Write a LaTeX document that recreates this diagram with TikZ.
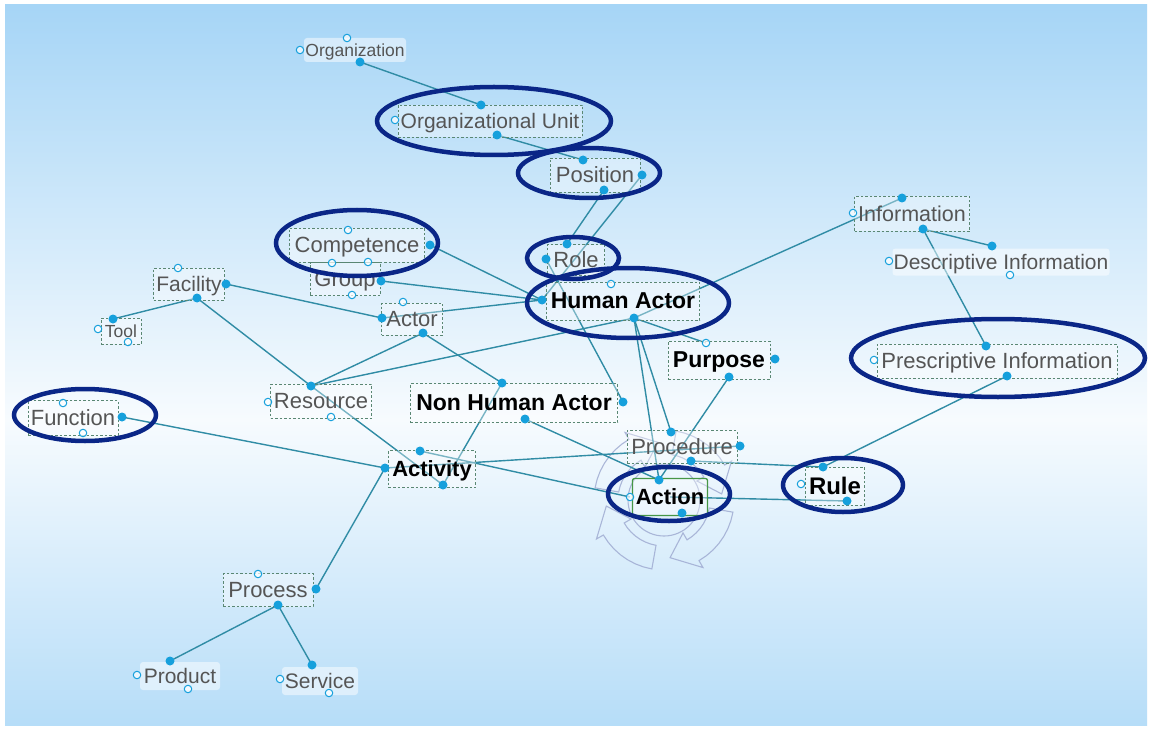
\documentclass[tikz,border=0pt]{standalone}
\usepackage{fontspec}
\setmainfont{Liberation Sans}
\usetikzlibrary{calc}
\definecolor{bgtop}{RGB}{166,213,246}
\definecolor{bgmid}{RGB}{247,251,254}
\definecolor{bgbot}{RGB}{182,221,248}
\definecolor{dotc}{RGB}{22,160,220}
\definecolor{linec}{RGB}{48,140,165}
\definecolor{ringc}{RGB}{10,38,135}
\definecolor{dashc}{RGB}{90,135,115}
\definecolor{txtc}{RGB}{85,85,85}
\definecolor{gearc}{RGB}{160,172,210}
\definecolor{actc}{RGB}{70,150,70}
\pgfdeclarelayer{back}
\pgfsetlayers{back,main}
\tikzset{
  dbox/.style={draw=dashc, dash pattern=on 2.5pt off 2pt, line width=0.9pt,
     fill=white, fill opacity=0.35, text opacity=1, inner sep=0pt, text depth=0pt,
     font=\fontsize{22}{24}\selectfont, text=txtc},
  bbox/.style={dbox, font=\bfseries\fontsize{23}{25}\selectfont, text=black},
  plain/.style={fill=white, fill opacity=0.5, text opacity=1, rounded corners=3pt,
     inner sep=0pt, text depth=0pt, text=txtc, font=\fontsize{21}{23}\selectfont},
  fdot/.style={circle, fill=dotc, inner sep=0pt, minimum size=9pt},
  hdot/.style={circle, draw=dotc, fill=white, fill opacity=0.7, line width=1pt, inner sep=0pt, minimum size=7.5pt},
  cline/.style={draw=linec, line width=1.4pt},
  hiring/.style={draw=ringc, line width=4.5pt},
  gearline/.style={draw=gearc, line width=1.1pt, draw opacity=0.85}
}
\begin{document}
\begin{tikzpicture}[x=1pt,y=-1pt]
\useasboundingbox (0,0) rectangle (1151,730);
\begin{pgfonlayer}{back}
  \fill[white] (0,0) rectangle (1151,730);
  \shade[top color=bgtop, bottom color=bgmid] (5,5) rectangle (1147,420);
  \shade[top color=bgmid, bottom color=bgbot] (5,419) rectangle (1147,725);
  % gear of arrows behind Action
  \begin{scope}[shift={(664,500)}]
    \foreach \a in {10,100,190,280}{
      \draw[gearline] plot[domain=\a:\a+50, samples=8] (\x:70) -- (\a+50:78) -- (\a+74:58)
        -- (\a+50:38) -- plot[domain=\a+50:\a, samples=8] (\x:46) -- cycle;
    }
    \draw[gearline] (0,0) circle[radius=36pt];
  \end{scope}
\end{pgfonlayer}

% ---- labelled boxes ----
\node[plain, minimum width=102pt, minimum height=24pt, font=\fontsize{17.5}{19}\selectfont] (org) at (355,50) {Organization};
\node[dbox, minimum width=184pt, minimum height=32pt, font=\fontsize{21}{23}\selectfont] (ou) at (490,121) {Organizational Unit};
\node[dbox, minimum width=90pt, minimum height=34pt] (pos) at (595,175) {Position};
\node[dbox, minimum width=115pt, minimum height=35pt, font=\fontsize{21.5}{23}\selectfont] (inf) at (912,214) {Information};
\node[plain, minimum width=217pt, minimum height=27pt] (desc) at (1001,262) {Descriptive Information};
\node[dbox, minimum width=135pt, minimum height=34pt] (comp) at (357,245) {Competence};
\node[dbox, minimum width=70pt, minimum height=33pt] (grp) at (345,279) {Group};
\node[dbox, minimum width=57pt, minimum height=31pt] (role) at (576,260) {Role};
\node[bbox, minimum width=153pt, minimum height=38pt] (ha) at (623,301) {Human Actor};
\node[dbox, minimum width=71pt, minimum height=32pt, font=\fontsize{21}{23}\selectfont] (fac) at (189,284) {Facility};
\node[dbox, minimum width=40pt, minimum height=26pt, font=\fontsize{17.5}{19}\selectfont] (tool) at (121,331) {Tool};
\node[dbox, minimum width=61pt, minimum height=32pt] (act) at (412,319) {Actor};
\node[bbox, minimum width=102pt, minimum height=38pt] (pur) at (719,360) {Purpose};
\node[dbox, minimum width=240pt, minimum height=34pt] (pre) at (997,361) {Prescriptive Information};
\node[dbox, minimum width=101pt, minimum height=34pt] (res) at (321,401) {Resource};
\node[bbox, minimum width=207pt, minimum height=39pt] (nha) at (514,403) {Non Human Actor};
\node[dbox, minimum width=90pt, minimum height=35pt] (fun) at (73,418) {Function};
\node[bbox, minimum width=87pt, minimum height=37pt, font=\bfseries\fontsize{22}{24}\selectfont] (acv) at (432,469) {Activity};
\node[dbox, minimum width=110pt, minimum height=33pt] (proc) at (682,447) {Procedure};
\node[bbox, draw=actc, solid, line width=1.3pt, rounded corners=2pt, minimum width=75pt, minimum height=37pt, font=\bfseries\fontsize{22}{24}\selectfont] (action) at (670,497) {Action};
\node[bbox, minimum width=59pt, minimum height=38pt, font=\bfseries\fontsize{24}{26}\selectfont] (rule) at (835,486) {Rule};
\node[dbox, minimum width=90pt, minimum height=33pt] (procs) at (268,590) {Process};
\node[plain, minimum width=80pt, minimum height=28pt] (prod) at (180,676) {Product};
\node[plain, minimum width=76pt, minimum height=28pt] (serv) at (320,681) {Service};

% ---- hollow ports ----
\node[hdot] (org-h1) at (300,50) {};
\node[hdot] (org-h2) at (347,38) {};
\node[hdot] (ou-h) at (395,120) {};
\node[hdot] (inf-h) at (853,213) {};
\node[hdot] (desc-h1) at (889,261) {};
\node[hdot] (desc-h2) at (1010,275) {};
\node[hdot] (comp-h1) at (348,230) {};
\node[hdot] (comp-h2) at (332,263) {};
\node[hdot] (comp-h3) at (368,262) {};
\node[hdot] (grp-h) at (352,295) {};
\node[hdot] (ha-h) at (611,284) {};
\node[hdot] (fac-h) at (178,268) {};
\node[hdot] (tool-h1) at (98,329) {};
\node[hdot] (tool-h2) at (128,342) {};
\node[hdot] (act-h) at (403,302) {};
\node[hdot] (pur-t) at (706,343) {};
\node[hdot] (pre-h) at (874,360) {};
\node[hdot] (res-h1) at (268,402) {};
\node[hdot] (res-h2) at (331,417) {};
\node[hdot] (fun-h1) at (63,403) {};
\node[hdot] (fun-h2) at (83,433) {};
\node[hdot] (action-l) at (630,497) {};
\node[hdot] (rule-h) at (801,484) {};
\node[hdot] (procs-h) at (258,574) {};
\node[hdot] (prod-h1) at (137,675) {};
\node[hdot] (prod-h2) at (188,689) {};
\node[hdot] (serv-h1) at (280,679) {};
\node[hdot] (serv-h2) at (329,693) {};

% ---- filled ports ----
\node[fdot] (org-d) at (360,62) {};
\node[fdot] (ou-t) at (481,105) {};
\node[fdot] (ou-b) at (497,135) {};
\node[fdot] (pos-t) at (583,160) {};
\node[fdot] (pos-r) at (642,175) {};
\node[fdot] (pos-b) at (604,190) {};
\node[fdot] (inf-t) at (902,198) {};
\node[fdot] (inf-b) at (923,229) {};
\node[fdot] (desc-d) at (992,246) {};
\node[fdot] (comp-r) at (430,245) {};
\node[fdot] (grp-r) at (381,281) {};
\node[fdot] (role-t) at (567,244) {};
\node[fdot] (role-l) at (546,259) {};
\node[fdot] (ha-l) at (542,300) {};
\node[fdot] (ha-b) at (634,318) {};
\node[fdot] (fac-r) at (226,284) {};
\node[fdot] (fac-b) at (197,298) {};
\node[fdot] (tool-t) at (113,319) {};
\node[fdot] (act-l) at (382,318) {};
\node[fdot] (act-b) at (423,333) {};
\node[fdot] (pur-r) at (775,359) {};
\node[fdot] (pur-b) at (729,377) {};
\node[fdot] (pre-t) at (986,346) {};
\node[fdot] (pre-b) at (1007,376) {};
\node[fdot] (res-t) at (311,386) {};
\node[fdot] (nha-t) at (502,383) {};
\node[fdot] (nha-r) at (623,402) {};
\node[fdot] (nha-b) at (525,419) {};
\node[fdot] (fun-r) at (122,417) {};
\node[fdot] (acv-t) at (420,451) {};
\node[fdot] (acv-l) at (385,468) {};
\node[fdot] (acv-b) at (443,485) {};
\node[fdot] (proc-t) at (671,432) {};
\node[fdot] (proc-r) at (740,446) {};
\node[fdot] (proc-b) at (691,461) {};
\node[fdot] (action-t) at (659,480) {};
\node[fdot] (action-b) at (682,513) {};
\node[fdot] (rule-t) at (823,467) {};
\node[fdot] (rule-b) at (847,501) {};
\node[fdot] (procs-r) at (316,589) {};
\node[fdot] (procs-b) at (278,605) {};
\node[fdot] (prod-d) at (170,661) {};
\node[fdot] (serv-d) at (312,665) {};

% ---- connectors (behind the nodes) ----
\begin{pgfonlayer}{back}
  \foreach \p/\q in {org-d/ou-t, ou-b/pos-t, pos-b/role-t, pos-r/ha-l,
      inf-t/ha-b, inf-b/desc-d, inf-b/pre-t, pre-b/rule-t,
      comp-r/ha-l, grp-r/ha-l, act-l/ha-l, fac-r/act-l, fac-b/tool-t, fac-b/res-t,
      act-b/res-t, act-b/nha-t, res-t/ha-b, ha-b/pur-t, ha-b/proc-t, ha-b/action-t,
      role-l/nha-r, pur-b/action-t, nha-b/action-t, nha-t/acv-b,
      fun-r/acv-l, acv-l/procs-r, res-t/acv-b, acv-t/action-l, acv-l/proc-r,
      action/rule-b, proc-b/rule-t, procs-b/prod-d, procs-b/serv-d}{
    \draw[cline] (\p.center) -- (\q.center);
  }
\end{pgfonlayer}

% ---- highlight ellipses ----
\draw[hiring] (494,121) ellipse[x radius=117pt, y radius=34pt];
\draw[hiring] (589,173) ellipse[x radius=71pt, y radius=25pt];
\draw[hiring] (357,243) ellipse[x radius=81pt, y radius=33pt];
\draw[hiring] (573,258) ellipse[x radius=46pt, y radius=21pt];
\draw[hiring] (628,303) ellipse[x radius=101pt, y radius=35pt];
\draw[hiring] (998,358) ellipse[x radius=147pt, y radius=39pt];
\draw[hiring] (85,415) ellipse[x radius=71pt, y radius=26pt];
\draw[hiring] (669,494) ellipse[x radius=61pt, y radius=27pt];
\draw[hiring] (843,485) ellipse[x radius=60pt, y radius=27pt];
\end{tikzpicture}
\end{document}
